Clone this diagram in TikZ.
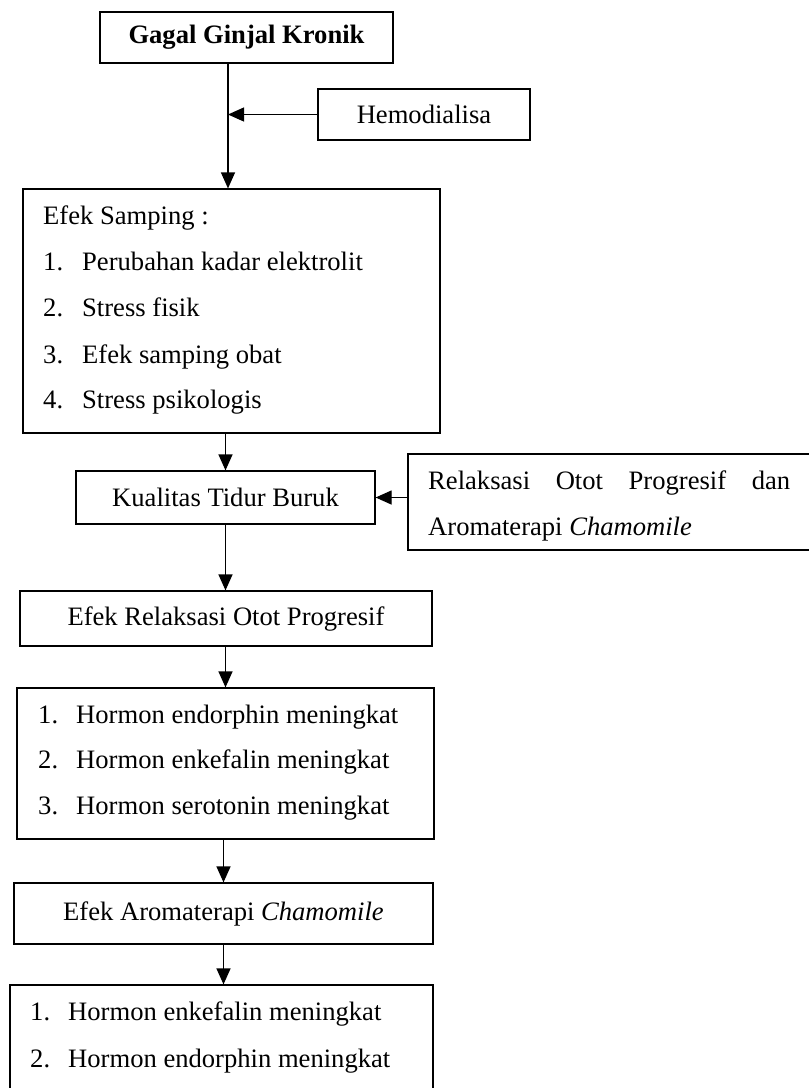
\documentclass[tikz,border=0pt]{standalone}
\usepackage{fontspec}
\setmainfont{Liberation Serif}
\usetikzlibrary{positioning}
\usetikzlibrary{arrows.meta}
\tikzset{box/.style = {draw, line width = 1.2pt, inner sep = 0, font = \fontsize{26.6}{32}\selectfont}}
\tikzset{txt/.style = {anchor = base west, inner sep = 0, font = \fontsize{26.6}{32}\selectfont}}
\tikzset{arr/.style = {line width = 1.2pt, -{Triangle[length=16pt, width=14pt]}}}

\begin{document}
\begin{tikzpicture}[x=1pt, y=-1pt]
    \useasboundingbox (0,0) rectangle (809,1088);
    % boxes
    \node[box, minimum width=293, minimum height=51] (ggk) at (246.5,37.5) {\textbf{Gagal Ginjal Kronik}};
    \node[box, minimum width=212, minimum height=51] (hd) at (424,114.5) {Hemodialisa};
    \node[box, minimum width=417, minimum height=244] (es) at (231.5,311) {};
    \node[box, minimum width=299, minimum height=53] (ktb) at (225.5,497.5) {Kualitas Tidur Buruk};
    \node[box, minimum width=410, minimum height=96] (ror) at (613,502) {};
    \node[box, minimum width=412, minimum height=55] (erop) at (226,618.5) {Efek Relaksasi Otot Progresif};
    \node[box, minimum width=417, minimum height=151] (hr1) at (225.5,763.5) {};
    \node[box, minimum width=419, minimum height=61] (eac) at (223.5,913.5) {Efek Aromaterapi \textit{Chamomile}};
    \node[box, minimum width=423, minimum height=140] (hr2) at (221.5,1055) {};
    % texts in the boxes
    \node[txt] (es0) at (43,224) {Efek Samping :};
    \foreach \y/\n/\t in {270/1/Perubahan kadar elektrolit, 316/2/Stress fisik,
                          363/3/Efek samping obat, 408/4/Stress psikologis} {
        \node[txt] (esn\n) at (43,\y) {\n.};
        \node[txt] (es\n) at (82,\y) {\t};
    }
    \node[txt] (ror1) at (428,489) {\makebox[362pt][s]{Relaksasi Otot Progresif dan}};
    \node[txt] (ror2) at (428,535) {Aromaterapi \textit{Chamomile}};
    \foreach \y/\n/\t in {723/1/Hormon endorphin meningkat, 768/2/Hormon enkefalin meningkat,
                          814/3/Hormon serotonin meningkat} {
        \node[txt] (hra\n) at (38,\y) {\n.};
        \node[txt] (hrt\n) at (76,\y) {\t};
    }
    \foreach \y/\n/\t in {1020/1/Hormon enkefalin meningkat, 1067/2/Hormon endorphin meningkat} {
        \node[txt] (hrb\n) at (30,\y) {\n.};
        \node[txt] (hru\n) at (68,\y) {\t};
    }
    % arrows
    \coordinate (jn) at (228,114.5);
    \draw[line width=1.2pt] (ggk.south -| jn) -- (jn);
    \draw[arr] (jn) -- (es.north -| jn);
    \draw[arr] (hd.west) -- (jn);
    \draw[arr] (es.south -| ktb.north) -- (ktb.north);
    \draw[arr] (ror.west |- ktb.east) -- (ktb.east);
    \draw[arr] (ktb.south) -- (erop.north -| ktb.south);
    \draw[arr] (erop.south -| ktb.south) -- (hr1.north -| ktb.south);
    \draw[arr] (hr1.south -| eac.north) -- (eac.north);
    \draw[arr] (eac.south) -- (hr2.north -| eac.south);
\end{tikzpicture}
\end{document}
